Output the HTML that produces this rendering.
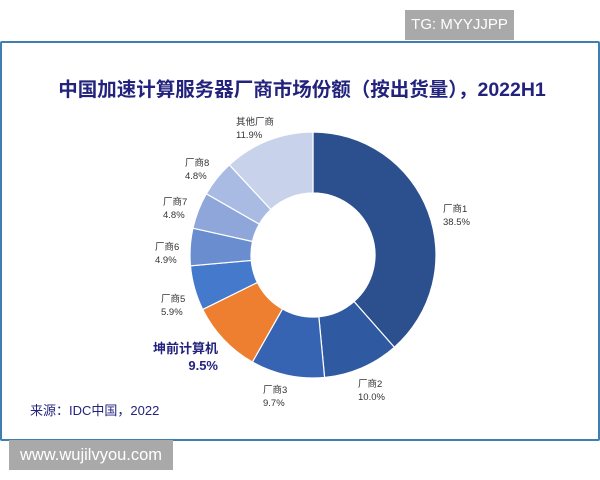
<!DOCTYPE html>
<html><head><meta charset="utf-8"><style>
body{margin:0;width:600px;height:480px;background:#fff;position:relative;overflow:hidden;font-family:"Liberation Sans","Noto Sans CJK SC",sans-serif}
.frame{position:absolute;left:0;top:41px;width:596px;height:396px;border:2px solid #3f7fb0;border-radius:2px}
.tg{position:absolute;left:405px;top:10px;width:109px;height:30px;background:#a9a9a9;color:#fff;font-size:15px;line-height:30px;text-align:center}
.www{position:absolute;left:9px;top:440px;width:164px;height:30px;background:#a9a9a9;color:#fff;font-size:16.5px;line-height:30px;text-align:center}
.title{position:absolute;left:0;width:604px;top:73px;text-align:center;font-size:19.5px;font-weight:bold;color:#23237e}
.lb{position:absolute;font-size:9.5px;color:#333;line-height:13px}
.src{position:absolute;left:30px;top:400px;font-size:13px;color:#23237e}
</style></head><body>
<div class="tg">TG: MYYJJPP</div>
<div class="frame"></div>
<div class="title">中国加速计算服务器厂商市场份额（按出货量），2022H1</div>
<svg id="s" width="600" height="480" style="position:absolute;left:0;top:0"></svg>
<div class="lb" style="left:443px;top:203px">厂商1<br>38.5%</div>
<div class="lb" style="left:358px;top:378px">厂商2<br>10.0%</div>
<div class="lb" style="left:263px;top:384px">厂商3<br>9.7%</div>
<div class="lb" style="left:161px;top:293px">厂商5<br>5.9%</div>
<div class="lb" style="left:155px;top:241px">厂商6<br>4.9%</div>
<div class="lb" style="left:163px;top:196px">厂商7<br>4.8%</div>
<div class="lb" style="left:185px;top:157px">厂商8<br>4.8%</div>
<div class="lb" style="left:236px;top:116px">其他厂商<br>11.9%</div>
<div class="lb" style="left:138px;top:340px;font-size:13px;font-weight:bold;color:#23237e;line-height:17px;text-align:right;width:80px">坤前计算机<br>9.5%</div>
<div class="src">来源：IDC中国，2022</div>
<div class="www">www.wujilvyou.com</div>
<script>
var d=[[38.5,'#2c4f8d'],[10,'#2f5aa1'],[9.7,'#3664b2'],[9.5,'#ee7f30'],[5.9,'#4479cc'],[4.9,'#6a8dcf'],[4.8,'#8ea6d9'],[4.8,'#a9bbe2'],[11.9,'#c8d2eb']];
var cx=313,cy=255,R=123,r=62,a=0,h='';
function p(rad,ang){return [cx+rad*Math.sin(ang),cy-rad*Math.cos(ang)]}
d.forEach(function(x){var b=a+x[0]/100*2*Math.PI,l=(b-a)>Math.PI?1:0;
var p1=p(R,a),p2=p(R,b),p3=p(r,b),p4=p(r,a);
h+='<path d="M'+p1+'A'+R+','+R+' 0 '+l+' 1 '+p2+'L'+p3+'A'+r+','+r+' 0 '+l+' 0 '+p4+'Z" fill="'+x[1]+'" stroke="#fff" stroke-width="1.2"/>';a=b;});
document.getElementById('s').innerHTML=h;
</script>
</body></html>
